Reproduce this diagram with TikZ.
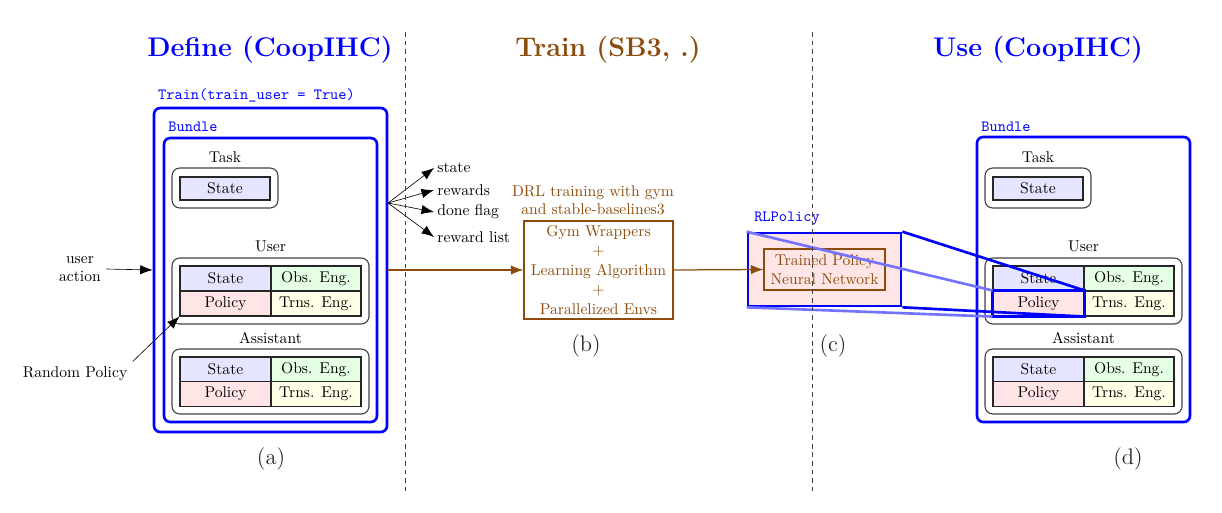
\documentclass[tikz,border=0pt]{standalone}
\usetikzlibrary{arrows.meta}
\definecolor{mybrown}{RGB}{140,75,10}
\newcommand\uu{0.641pt}
\tikzset{
 sz/.style 2 args={minimum width=#1*\uu, minimum height=#2*\uu},
 cell/.style={draw=black!85, line width=0.7pt, inner sep=0pt},
 cst/.style={cell, fill=blue!10},
 cobs/.style={cell, fill=green!10},
 cpol/.style={cell, fill=red!10},
 ctrn/.style={cell, fill=yellow!10},
 cont/.style={draw=black!75, line width=0.7pt, rounded corners=5pt, inner sep=0pt},
 bbox/.style={draw=blue, line width=1.7pt, rounded corners=4pt, inner sep=0pt},
 arr/.style={-{Latex[length=8pt,width=6pt]}},
 ttlab/.style={font=\ttfamily, text=blue},
 ttl/.style={font=\LARGE\bfseries},
 sublab/.style={font=\Large, text=black!85},
}
\newcommand\agentpanel[2]{%
 \node (#1tasklab) at (225+#2,157) {Task};
 \node[cont, sz={106}{40}] (#1task) at (225+#2,188) {};
 \node[cst, sz={90}{23}] (#1tst) at (225+#2,188.5) {State};
 \node (#1userlab) at (270.5+#2,246) {User};
 \node[cont, sz={197}{66}] (#1user) at (270.5+#2,291) {};
 \node[cst, sz={91}{25}] (#1ust) at (225.5+#2,278.5) {State};
 \node[cobs, sz={90}{25}] (#1uobs) at (316+#2,278.5) {Obs. Eng.};
 \node[cpol, sz={91}{25}] (#1upol) at (225.5+#2,303.5) {Policy};
 \node[ctrn, sz={90}{25}] (#1utrn) at (316+#2,303.5) {Trns. Eng.};
 \node (#1asstlab) at (270.5+#2,338) {Assistant};
 \node[cont, sz={197}{65}] (#1asst) at (270.5+#2,381.5) {};
 \node[cst, sz={91}{25}] (#1ast) at (225.5+#2,369.5) {State};
 \node[cobs, sz={90}{25}] (#1aobs) at (316+#2,369.5) {Obs. Eng.};
 \node[cpol, sz={91}{25}] (#1apol) at (225.5+#2,394) {Policy};
 \node[ctrn, sz={90}{25}] (#1atrn) at (316+#2,394) {Trns. Eng.};
}
\begin{document}
\begin{tikzpicture}[x=0.641pt, y=-0.641pt]
\useasboundingbox (0,0) rectangle (1222,512);
% titles
\node[ttl, text=blue] (t1) at (270,50) {Define (CoopIHC)};
\node[ttl, text=mybrown] (t2) at (608,50) {Train (SB3, .)};
\node[ttl, text=blue] (t3) at (1038,50) {Use (CoopIHC)};
% left panel
\node[ttlab] (trainlab) at (256.5,95) {Train(train\_user = True)};
\node[bbox, sz={233}{324}] (outerL) at (270.5,270) {};
\node[ttlab] (bundL) at (193,127) {Bundle};
\node[bbox, sz={213}{284}] (innerL) at (270.5,280) {};
\agentpanel{L}{0}
% right panel
\node[ttlab] (bundR) at (1006,127) {Bundle};
\node[bbox, sz={213}{285}] (innerR) at (1083.5,279.5) {};
\agentpanel{R}{813}
% sub labels
\node[sublab] (la) at (271,459) {(a)};
\node[sublab] (lb) at (586,346) {(b)};
\node[sublab] (lc) at (833,346) {(c)};
\node[sublab] (ld) at (1128,459) {(d)};
% inputs
\node[align=center] (ua) at (80,269) {user\\action};
\draw[arr] (ua.east) -- (outerL.west);
\node (rp) at (75,374) {Random Policy};
\draw[arr] (rp.north east) -- (Lupol.south west);
% fan of outputs
\coordinate (fan) at (388,203);
\node[anchor=west, inner sep=2pt] (ls) at (434,168) {state};
\node[anchor=west, inner sep=2pt] (lr) at (434,190) {rewards};
\node[anchor=west, inner sep=2pt] (ld2) at (434,212) {done flag};
\node[anchor=west, inner sep=2pt] (lrl) at (434,237) {reward list};
\draw[arr] (fan) -- (ls.west);
\draw[arr] (fan) -- (lr.west);
\draw[arr] (fan) -- (ld2.west);
\draw[arr] (fan) -- (lrl.west);
% training
\node[text=mybrown, align=center, font=\fontsize{10}{11.5}\selectfont] (drlcap) at (593,200) {DRL training with gym\\and stable-baselines3};
\node[draw=mybrown, line width=0.7pt, sz={149}{98}, text=mybrown, align=center, inner sep=0pt, font=\fontsize{10}{12.5}\selectfont] (drl) at (598.5,270) {Gym Wrappers\\+\\Learning Algorithm\\+\\Parallelized Envs};
\draw[arr, mybrown, line width=0.8pt] (outerL.east) -- (drl.west);
% RL policy
\node[draw=blue, line width=1.7pt, fill=red!10, sz={153}{73}, inner sep=0pt] (rl) at (824.5,269.5) {};
\node[ttlab] (rllab) at (787,219) {RLPolicy};
\node[draw=mybrown, line width=0.7pt, fill=red!10, sz={121}{41}, inner sep=0pt, text=mybrown, align=center] (tp) at (824.5,269.5) {Trained Policy\\Neural Network};
\draw[arr, mybrown, line width=0.8pt] (drl.east) -- (tp.west);
% zoom lines
\draw[blue, line width=1.7pt] (Rupol.south west) rectangle (Rupol.north east);
\draw[blue, line width=1.7pt] (rl.north east) -- (Rupol.north east);
\draw[blue, line width=1.7pt] (rl.south east) -- (Rupol.south east);
\draw[blue!55, line width=1.7pt] (rl.north west) -- (Rupol.north west);
\draw[blue!55, line width=1.7pt] (rl.south west) -- (Rupol.south west);
% dashed separators
\coordinate (d1t) at (405,32);
\coordinate (d1b) at (405,493);
\coordinate (d2t) at (812,32);
\coordinate (d2b) at (812,493);
\draw[black!75, line width=0.6pt, dash pattern=on 3pt off 2.5pt] (d1t) -- (d1b);
\draw[black!75, line width=0.6pt, dash pattern=on 3pt off 2.5pt] (d2t) -- (d2b);
\end{tikzpicture}
\end{document}
